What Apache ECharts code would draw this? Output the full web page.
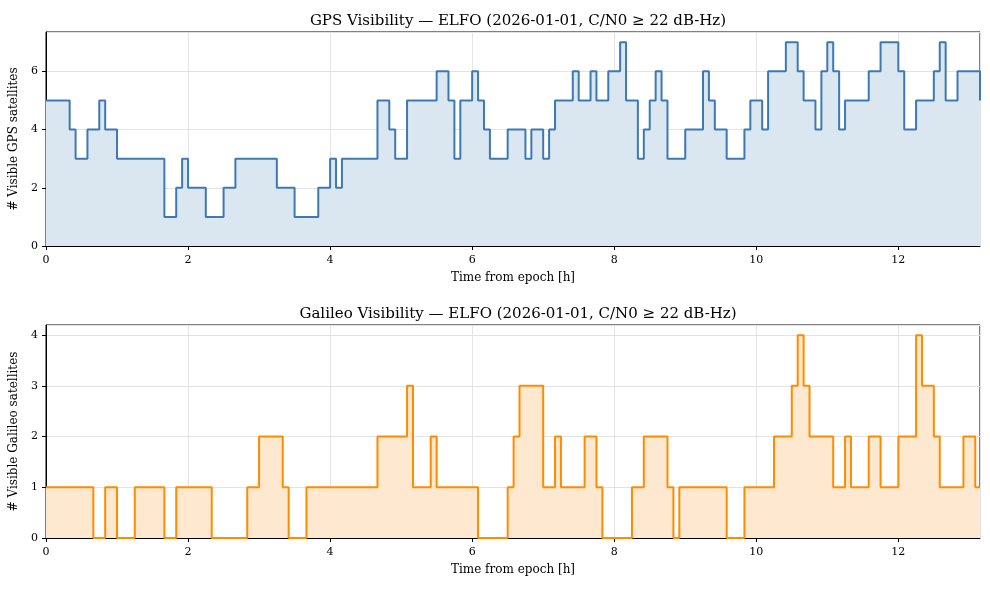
<!DOCTYPE html>
<html>
<head>
<meta charset="utf-8">
<script src="https://cdn.jsdelivr.net/npm/echarts@6/dist/echarts.min.js"></script>
<style>
  html, body { margin: 0; padding: 0; background: #fff; }
  #chart { width: 990px; height: 590px; }
</style>
</head>
<body>
<div id="chart"></div>
<script>
// step data: start minute of each segment and the satellite count held from there
var gpsStartMin = [0, 20, 25, 35, 45, 50, 60, 100, 110, 115, 120, 135, 150, 160, 195, 210, 230, 240, 245, 250,
  280, 290, 295, 305, 330, 340, 345, 350, 360, 365, 370, 375, 390, 405, 410, 420, 425, 430, 445, 450,
  460, 465, 475, 485, 490, 500, 505, 510, 515, 520, 525, 540, 555, 560, 565, 575, 590, 595, 605, 610,
  625, 635, 640, 650, 655, 660, 665, 670, 675, 695, 705, 720, 725, 735, 750, 755, 760, 770];
var gpsSats = [5, 4, 3, 4, 5, 4, 3, 1, 2, 3, 2, 1, 2, 3, 2, 1, 2, 3, 2, 3,
  5, 4, 3, 5, 6, 5, 3, 5, 6, 5, 4, 3, 4, 3, 4, 3, 4, 5, 6, 5,
  6, 5, 6, 7, 5, 3, 4, 5, 6, 5, 3, 4, 6, 5, 4, 3, 4, 5, 4, 6,
  7, 6, 5, 4, 6, 7, 6, 4, 5, 6, 7, 6, 4, 5, 6, 7, 5, 6];
var gpsLast = 5;

var galStartMin = [0, 40, 50, 60, 75, 100, 110, 140, 170, 180, 200, 205, 220, 280, 305, 310, 325, 330, 365, 390,
  395, 400, 420, 430, 435, 455, 465, 470, 495, 505, 525, 530, 535, 575, 590, 615, 630, 635, 640, 645,
  665, 675, 680, 695, 705, 720, 735, 740, 750, 755, 775, 785];
var galSats = [1, 0, 1, 0, 1, 0, 1, 0, 1, 2, 1, 0, 1, 2, 3, 1, 2, 1, 0, 1,
  2, 3, 1, 2, 1, 2, 1, 0, 1, 2, 1, 0, 1, 0, 1, 2, 3, 4, 3, 2,
  1, 2, 1, 2, 1, 2, 4, 3, 2, 1, 2, 1];
var galLast = 1;

var endMin = 789;
var gpsTitle = 'GPS Visibility \u2014 ELFO (2026-01-01, C/N0 \u2265 22 dB-Hz)';
var galTitle = 'Galileo Visibility \u2014 ELFO (2026-01-01, C/N0 \u2265 22 dB-Hz)';

function toSteps(starts, vals, last) {
  var out = [];
  for (var i = 0; i < starts.length; i++) {
    out.push([starts[i] / 60, vals[i]]);
  }
  out.push([endMin / 60, last]);
  return out;
}

var FONT = 'DejaVu Serif';
var gridLine = { show: true, lineStyle: { color: '#e3e3e3', width: 1 } };

function xAxisCfg(idx) {
  return {
    type: 'value', gridIndex: idx, min: 0, max: endMin / 60, interval: 2,
    name: 'Time from epoch [h]', nameLocation: 'middle', nameGap: 26,
    nameTextStyle: { fontFamily: FONT, fontSize: 12, color: '#000' },
    axisLine: { show: true, lineStyle: { color: '#000', width: 1 } },
    axisTick: { show: true, length: 4, lineStyle: { color: '#000' } },
    axisLabel: { fontFamily: FONT, fontSize: 11, color: '#000', margin: 9, showMaxLabel: false },
    splitLine: gridLine
  };
}
function yAxisCfg(idx, max, interval, name) {
  return {
    type: 'value', gridIndex: idx, min: 0, max: max, interval: interval,
    name: name, nameLocation: 'middle', nameGap: 24,
    nameTextStyle: { fontFamily: FONT, fontSize: 12, color: '#000' },
    axisLine: { show: true, lineStyle: { color: '#000', width: 1 } },
    axisTick: { show: true, length: 4, lineStyle: { color: '#000' } },
    axisLabel: { fontFamily: FONT, fontSize: 11, color: '#000', margin: 8, showMaxLabel: false },
    splitLine: gridLine
  };
}

var chart = echarts.init(document.getElementById('chart'), null, { renderer: 'canvas' });
chart.setOption({
  animation: false,
  backgroundColor: '#fff',
  title: [
    { text: gpsTitle, left: 513, top: 9, textAlign: 'center',
      textStyle: { fontFamily: FONT, fontSize: 15, fontWeight: 'normal', color: '#000' } },
    { text: galTitle, left: 513, top: 302, textAlign: 'center',
      textStyle: { fontFamily: FONT, fontSize: 15, fontWeight: 'normal', color: '#000' } }
  ],
  grid: [
    { left: 46, top: 32, width: 934, height: 214, show: true, borderColor: '#000', borderWidth: 1 },
    { left: 46, top: 325, width: 934, height: 213, show: true, borderColor: '#000', borderWidth: 1 }
  ],
  xAxis: [xAxisCfg(0), xAxisCfg(1)],
  yAxis: [
    yAxisCfg(0, 7.35, 2, '# Visible GPS satellites'),
    yAxisCfg(1, 4.2, 1, '# Visible Galileo satellites')
  ],
  series: [
    {
      type: 'line', xAxisIndex: 0, yAxisIndex: 0, step: 'end', showSymbol: false,
      data: toSteps(gpsStartMin, gpsSats, gpsLast),
      lineStyle: { color: '#3d7ab3', width: 2 },
      itemStyle: { color: '#3d7ab3' },
      areaStyle: { color: '#dae6f0', opacity: 1 }
    },
    {
      type: 'line', xAxisIndex: 1, yAxisIndex: 1, step: 'end', showSymbol: false,
      data: toSteps(galStartMin, galSats, galLast),
      lineStyle: { color: '#ff8c00', width: 2 },
      itemStyle: { color: '#ff8c00' },
      areaStyle: { color: '#fee8cf', opacity: 1 }
    }
  ]
});
</script>
</body>
</html>
